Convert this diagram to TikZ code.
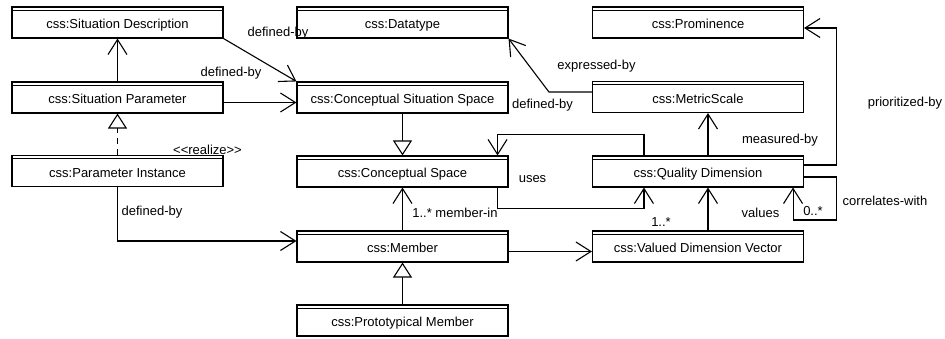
\documentclass[tikz,border=0pt]{standalone}
\usepackage{fontspec}
\setmainfont{Liberation Sans}
\usetikzlibrary{arrows.meta}
\tikzset{
  cls/.style={draw, line width=1.1pt, minimum width=211pt, minimum height=31pt, inner sep=0pt,
    text height=15pt, text depth=2.7pt,
    font=\fontsize{13}{15}\selectfont,
    path picture={\draw[line width=0.9pt] ([yshift=-3pt]path picture bounding box.north west) -- ([yshift=-3pt]path picture bounding box.north east);}},
  lbl/.style={font=\fontsize{13}{15}\selectfont, inner sep=0pt},
  assoc/.style={line width=1.1pt, -{Straight Barb[length=15pt,width=19pt]}},
  gen/.style={line width=1.1pt, -{Triangle[open,length=15pt,width=19pt,fill=white]}},
  real/.style={gen, dash pattern=on 6pt off 5pt},
}
\begin{document}
\begin{tikzpicture}[x=1pt,y=-1pt]
\useasboundingbox (0,0) rectangle (945,339);
% classes
\node[cls] (sd)  at (117.5,22.5) {css:Situation Description};
\node[cls] (sp)  at (117.5,97.5) {css:Situation Parameter};
\node[cls] (pi)  at (117.5,171) {css:Parameter Instance};
\node[cls] (dt)  at (402.5,22.5) {css:Datatype};
\node[cls] (css) at (402.5,97.5) {css:Conceptual Situation Space};
\node[cls] (cs)  at (402.5,171.5) {css:Conceptual Space};
\node[cls] (mem) at (402.5,246.5) {css:Member};
\node[cls] (pm)  at (402.5,320.5) {css:Prototypical Member};
\node[cls] (pr)  at (698,22.5) {css:Prominence};
\node[cls] (ms)  at (698,97) {css:MetricScale};
\node[cls] (qd)  at (698,171.5) {css:Quality Dimension};
\node[cls] (vdv) at (698,246.5) {css:Valued Dimension Vector};
% connectors
\draw[assoc] (sp.north) -- (sd.south);
\draw[assoc] (sd.south east) -- (css.north west);
\draw[assoc] ([yshift=-5pt]sp.east) -- ([yshift=-5pt]css.west);
\draw[real] (pi.north) -- (sp.south);
\draw[assoc] (pi.south) |- ([yshift=5.5pt]mem.west);
\draw[gen] (css.south) -- (cs.north);
\draw[assoc] (mem.north) -- (cs.south);
\draw[gen] (pm.north) -- (mem.south);
\draw[assoc] ([yshift=-5pt]mem.east) -- ([yshift=-5pt]vdv.west);
\draw[assoc] ([xshift=-11pt]cs.south east) -- ++(0,21) -| ([xshift=52pt]qd.south west);
\draw[assoc] ([xshift=52pt]qd.north west) -- ++(0,-21) -| ([xshift=-11pt]cs.north east);
\draw[assoc] ([yshift=5pt]ms.west) -- ++(-43,0) -- (dt.south east);
\draw[assoc] ([xshift=10pt]qd.north) -- ([xshift=10pt]ms.south);
\draw[assoc] ([xshift=10pt]vdv.north) -- ([xshift=10pt]qd.south);
\draw[assoc] ([yshift=6.5pt]qd.east) -- ++(32,0) |- ([yshift=-5.5pt]pr.east);
\draw[assoc] ([yshift=-5.5pt]qd.east) -- ++(32,0) -- ++(0,43) -| ([xshift=-11pt]qd.south east);
% labels
\node[lbl] (l1)  at (278,33) {defined-by};
\node[lbl] (l2)  at (231,73) {defined-by};
\node[lbl] (l3)  at (207.5,150) {<\kern0pt<realize>\kern0pt>};
\node[lbl] (l4)  at (152,212) {defined-by};
\node[lbl] (l5)  at (455,213) {1..* member-in};
\node[lbl] (l6)  at (532.5,179) {uses};
\node[lbl] (l7)  at (542.5,105) {defined-by};
\node[lbl] (l8)  at (596.5,66) {expressed-by};
\node[lbl] (l9)  at (780,140) {measured-by};
\node[lbl] (l10) at (905,103) {prioritized-by};
\node[lbl] (l11) at (885,201) {correlates-with};
\node[lbl] (l12) at (760.5,213) {values};
\node[lbl] (l13) at (813,211) {0..*};
\node[lbl] (l14) at (661,222) {1..*};
\end{tikzpicture}
\end{document}
